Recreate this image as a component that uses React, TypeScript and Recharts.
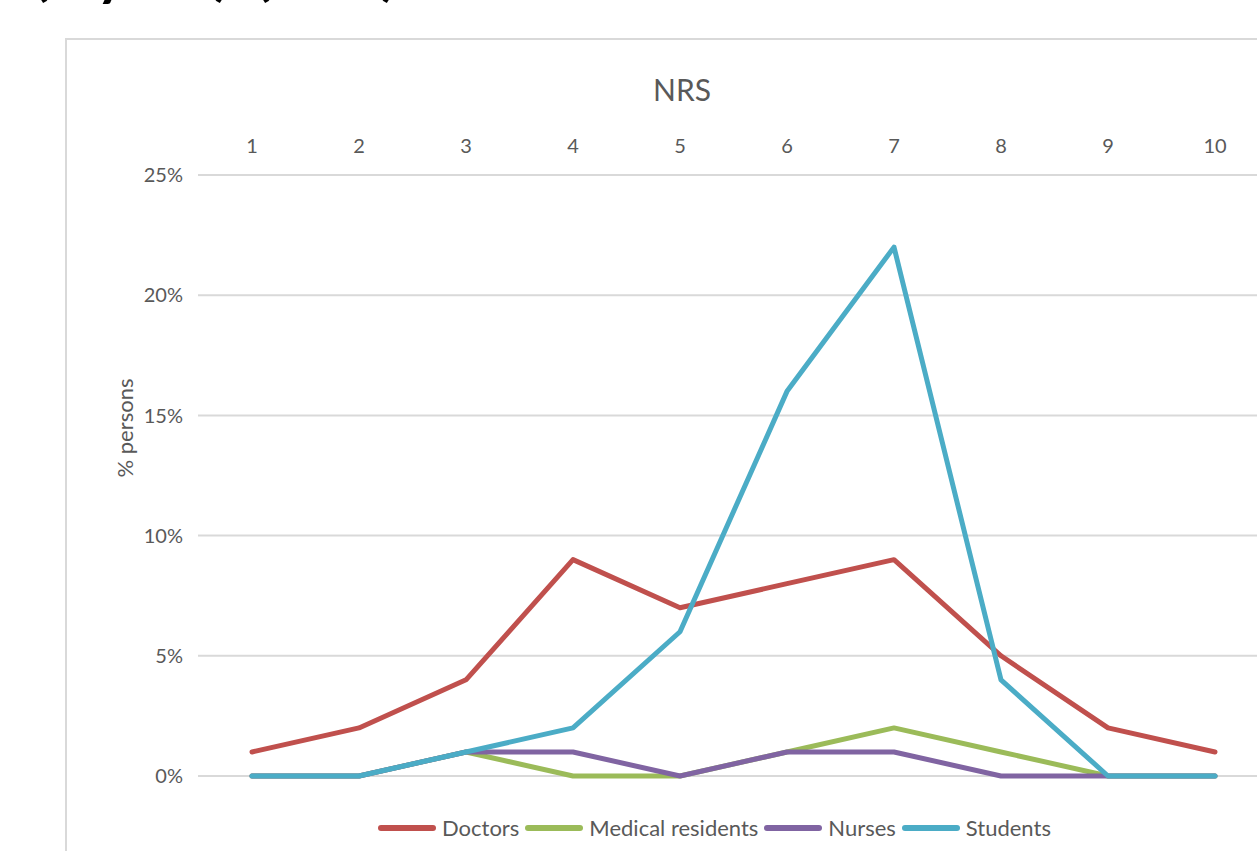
import { CartesianGrid, Legend, Line, LineChart, XAxis, YAxis } from "recharts";

const nrsScores = ["1", "2", "3", "4", "5", "6", "7", "8", "9", "10"];
const doctors = [1, 2, 4, 9, 7, 8, 9, 5, 2, 1];
const medicalResidents = [0, 0, 1, 0, 0, 1, 2, 1, 0, 0];
const nurses = [0, 0, 1, 1, 0, 1, 1, 0, 0, 0];
const students = [0, 0, 1, 2, 6, 16, 22, 4, 0, 0];
const percentTicks = [0, 5, 10, 15, 20, 25];

const SERIES = [
  { key: "doctors", name: "Doctors", color: "#C0504D", values: doctors },
  { key: "medicalResidents", name: "Medical residents", color: "#9BBB59", values: medicalResidents },
  { key: "nurses", name: "Nurses", color: "#8064A2", values: nurses },
  { key: "students", name: "Students", color: "#4BACC6", values: students },
];

const data = nrsScores.map((nrs, i) => {
  const row: Record<string, string | number> = { nrs };
  SERIES.forEach((s) => (row[s.key] = s.values[i]));
  return row;
});

const FONT = "Lato, 'Open Sans', sans-serif";
const GREY = "#595959";

function LegendRow({ payload }: any) {
  return (
    <div style={{ display: "flex", alignItems: "center", fontFamily: FONT, fontSize: 22, color: GREY, whiteSpace: "nowrap" }}>
      {(payload || []).map((p: any) => (
        <span key={p.value} style={{ display: "flex", alignItems: "center", marginRight: 6 }}>
          <svg width={58} height={10}>
            <line x1={3} y1={5} x2={55} y2={5} stroke={p.color} strokeWidth={6} strokeLinecap="round" />
          </svg>
          <span style={{ marginLeft: 6 }}>{p.value}</span>
        </span>
      ))}
    </div>
  );
}

export default function App() {
  return (
    <div style={{ position: "fixed", left: 0, top: 0, width: 1257, height: 851, overflow: "hidden", background: "#fff" }}>
      {/* cut-off slide heading above the chart */}
      <div style={{ position: "absolute", top: -63, left: 0, fontFamily: FONT, fontSize: 58, fontWeight: 700, color: "#000", whiteSpace: "pre" }}>
        <span style={{ position: "absolute", left: 33 }}>(</span>
        <span style={{ position: "absolute", left: 96 }}>y</span>
        <span style={{ position: "absolute", left: 214 }}>)</span>
        <span style={{ position: "absolute", left: 255 }}>(</span>
        <span style={{ position: "absolute", left: 381 }}>)</span>
      </div>
      <div style={{ position: "absolute", left: 65, top: 38, width: 1300, height: 900, border: "2px solid #d9d9d9" }} />
      <div style={{ position: "absolute", left: 0, top: 0 }}>
        <LineChart width={1290} height={851} data={data} margin={{ top: 75, right: 21, bottom: 75, left: 0 }}>
          <CartesianGrid vertical={false} stroke="#d9d9d9" strokeWidth={2} />
          <XAxis
            dataKey="nrs"
            orientation="top"
            height={100}
            padding={{ left: 54, right: 54 }}
            axisLine={false}
            tickLine={false}
            tickSize={0}
            tickMargin={22}
            tick={{ fontSize: 20, fill: GREY, fontFamily: FONT }}
            label={{
              content: () => (
                <text x={682} y={101} textAnchor="middle" fontSize={30} fill={GREY} fontFamily={FONT}>
                  NRS
                </text>
              ),
            }}
          />
          <YAxis
            width={198}
            domain={[0, 25]}
            ticks={percentTicks}
            tickFormatter={(v) => `${v}%`}
            axisLine={false}
            tickLine={false}
            tickSize={0}
            tickMargin={15}
            tick={{ fontSize: 20, fill: GREY, fontFamily: FONT }}
            label={{
              content: () => (
                <text x={133} y={428} transform="rotate(-90 133 428)" textAnchor="middle" fontSize={22} fill={GREY} fontFamily={FONT}>
                  % persons
                </text>
              ),
            }}
          />
          <Legend
            verticalAlign="middle"
            align="center"
            content={<LegendRow />}
            wrapperStyle={{ position: "absolute", left: 378, top: 814, width: "auto" }}
          />
          {SERIES.map((s) => (
            <Line
              key={s.key}
              type="linear"
              dataKey={s.key}
              name={s.name}
              stroke={s.color}
              strokeWidth={5}
              strokeLinecap="round"
              strokeLinejoin="round"
              dot={false}
              activeDot={false}
              isAnimationActive={false}
            />
          ))}
        </LineChart>
      </div>
    </div>
  );
}
